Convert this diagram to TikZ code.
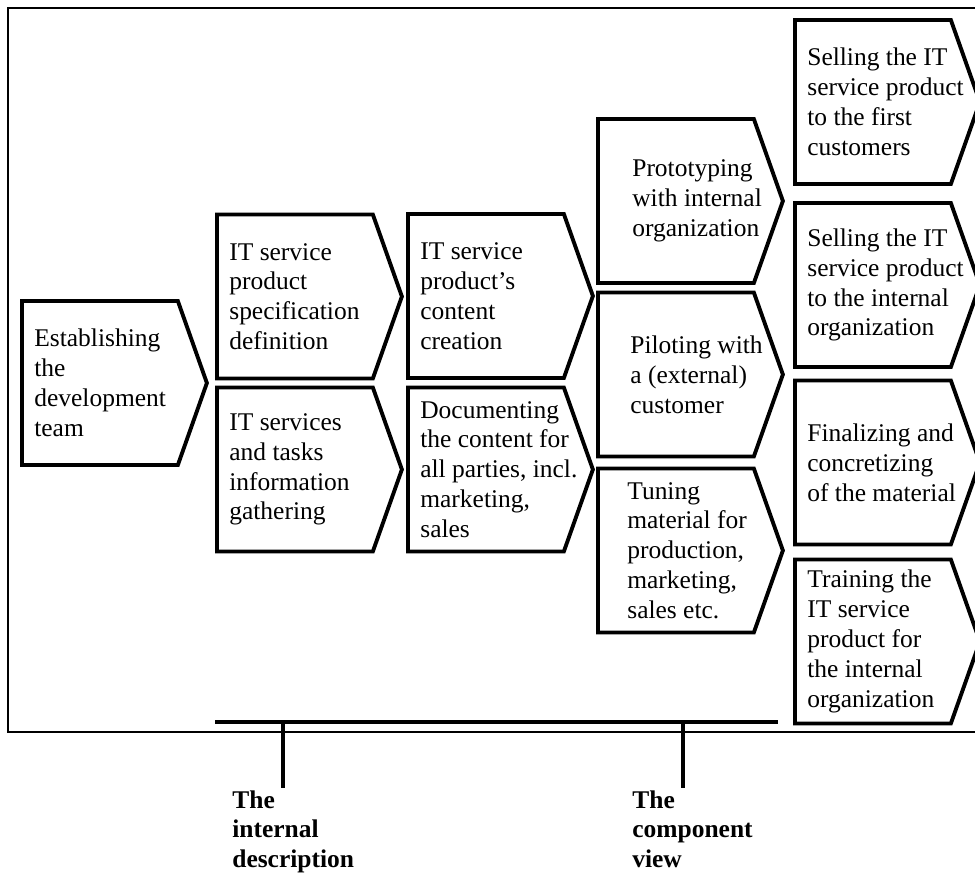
\documentclass[tikz,border=0pt]{standalone}
\usepackage{fontspec}
\setmainfont{Liberation Serif}
\usetikzlibrary{shapes.symbols,positioning}
\tikzset{
    stage/.style={draw, shape=signal, signal to=east, signal pointer angle=141, line width=2.2pt, minimum width=3.7cm, minimum height=3.28cm, inner sep=0pt, anchor=west},
    stagetext/.style={anchor=west, align=left, inner sep=0pt, xshift=0.28cm, font=\fontsize{14.5}{17}\selectfont},
    frame/.style={line width=0.8pt},
    bar/.style={line width=2.2pt},
    viewlabel/.style={anchor=north west, align=left, inner sep=0pt, font=\fontsize{14.5}{17}\selectfont\bfseries}
}

\begin{document}
\begin{tikzpicture}[x=0.02cm, y=-0.02cm]
    \path[use as bounding box, clip] (0,0) rectangle (975,873);
    \draw[frame] (8,8) rectangle (1000,732);
    % first step
    \node[stage] (team) at (20,383) {};
    \node[stagetext] (teamtext) at (team.west) {Establishing\\the\\development\\team};
    % internal description
    \node[stage] (spec) at (215,296.5) {};
    \node[stagetext] (spectext) at (spec.west) {IT service\\product\\specification\\definition};
    \node[stage] (gather) at (215,469.5) {};
    \node[stagetext] (gathertext) at (gather.west) {IT services\\and tasks\\information\\gathering};
    \node[stage] (content) at (406,296) {};
    \node[stagetext] (contenttext) at (content.west) {IT service\\product’s\\content\\creation};
    \node[stage] (docu) at (406,469.5) {};
    \node[stagetext] (docutext) at (docu.west) {Documenting\\the content for\\all parties, incl.\\marketing,\\sales};
    % component view
    \node[stage] (proto) at (596,201) {};
    \node[stagetext, xshift=0.44cm] (prototext) at (proto.west) {Prototyping\\with internal\\organization};
    \node[stage] (pilot) at (596,374.5) {};
    \node[stagetext, xshift=0.4cm] (pilottext) at (pilot.west) {Piloting with\\a (external)\\customer};
    \node[stage] (tune) at (596,550.5) {};
    \node[stagetext, xshift=0.34cm] (tunetext) at (tune.west) {Tuning\\material for\\production,\\marketing,\\sales etc.};
    % last column
    \node[stage] (sellfirst) at (793,102) {};
    \node[stagetext] (sellfirsttext) at (sellfirst.west) {Selling the IT\\service product\\to the first\\customers};
    \node[stage] (sellint) at (793,285) {};
    \node[stagetext] (sellinttext) at (sellint.west) {Selling the IT\\service product\\to the internal\\organization};
    \node[stage] (final) at (793,462.5) {};
    \node[stagetext] (finaltext) at (final.west) {Finalizing and\\concretizing\\of the material};
    \node[stage] (train) at (793,641.5) {};
    \node[stagetext] (traintext) at (train.west) {Training the\\IT service\\product for\\the internal\\organization};
    % views
    \coordinate (barL) at (215,722);
    \coordinate (barR) at (778,722);
    \coordinate (tickA) at (283,722);
    \coordinate (tickB) at (683,722);
    \node[viewlabel] (intdesc) at (232,790) {The\\internal\\description};
    \node[viewlabel] (compview) at (632,790) {The\\component\\view};
    \draw[bar] (barL) -- (barR);
    \draw[bar] (tickA) -- (tickA |- 0,788);
    \draw[bar] (tickB) -- (tickB |- 0,788);
\end{tikzpicture}
\end{document}
